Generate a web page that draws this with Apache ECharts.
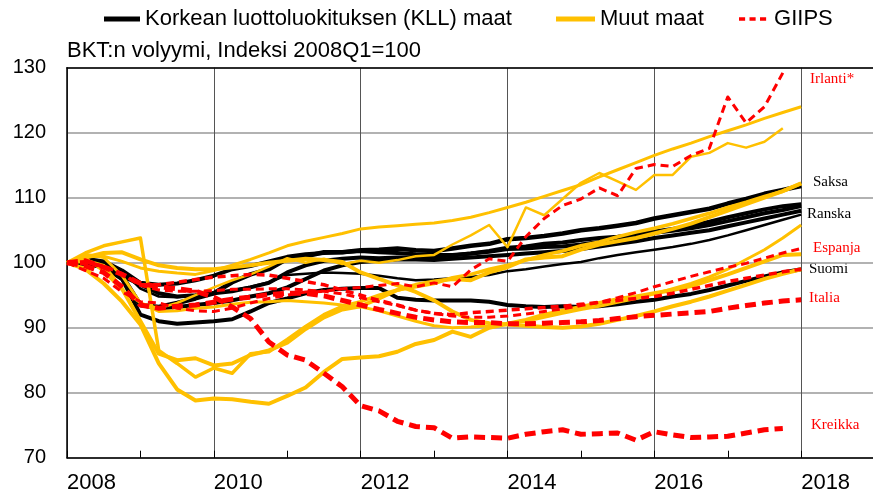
<!DOCTYPE html>
<html>
<head>
<meta charset="utf-8">
<script src="https://cdn.jsdelivr.net/npm/echarts@6/dist/echarts.min.js"></script>
<style>
  html, body { margin: 0; padding: 0; background: #fff; overflow: hidden; }
  /* piirtoalue jatkuu oikean reunan yli, jotta 2019 jää kuvan ulkopuolelle */
  #chart { width: 951px; height: 495px; }
</style>
</head>
<body>
<div id="chart"></div>
<script>
// vuosineljännekset 2008Q1 ... 2018Q1 desimaalivuosina
const quarters = [];
for (let i = 0; i <= 40; i++) quarters.push(2008 + i / 4);

const yearLabels = [2008, 2010, 2012, 2014, 2016, 2018];

// Korkean luottoluokituksen maat
const saksa = [100, 100.3, 99.8, 98.0, 93.5, 93.2, 93.8, 94.5, 95.3, 97.0, 98.2, 99.0, 100.6, 101.0, 101.6, 101.6, 101.9, 102.0, 102.2, 101.9, 101.8, 102.2, 102.6, 102.9, 103.6, 103.8, 104.1, 104.5, 105.0, 105.3, 105.7, 106.1, 106.8, 107.3, 107.8, 108.3, 109.1, 109.8, 110.6, 111.2, 111.8];
const itavalta = [100, 100.6, 100.2, 98.8, 96.9, 96.6, 96.8, 97.3, 98.0, 99.0, 99.5, 100.2, 100.9, 101.3, 101.5, 101.6, 101.8, 101.6, 101.5, 101.3, 101.2, 101.2, 101.4, 101.7, 102.1, 102.2, 102.4, 102.5, 102.8, 103.2, 103.7, 104.3, 104.8, 105.2, 105.7, 106.3, 107.0, 107.6, 108.2, 108.7, 109.0];
const belgia = [100, 100.4, 99.8, 98.0, 96.6, 95.3, 94.8, 95.0, 95.3, 95.6, 96.2, 96.9, 98.5, 99.6, 100.3, 100.6, 100.8, 100.7, 100.8, 100.8, 100.9, 101.1, 101.4, 101.8, 102.3, 102.5, 102.9, 103.1, 103.5, 103.8, 104.0, 104.3, 104.6, 104.9, 105.3, 105.8, 106.4, 107.0, 107.6, 108.1, 108.7];
const ranska = [100, 99.8, 99.3, 97.5, 93.5, 93.0, 93.2, 93.5, 93.8, 94.2, 94.8, 95.3, 96.2, 97.5, 98.8, 99.6, 100.1, 100.3, 100.5, 100.5, 100.4, 100.6, 100.8, 101.0, 101.2, 101.4, 101.6, 101.8, 102.1, 102.5, 102.9, 103.3, 103.8, 104.2, 104.6, 105.0, 105.6, 106.2, 106.8, 107.4, 108.0];
const alankomaat = [100, 100.5, 100.0, 98.8, 96.0, 94.8, 94.7, 95.0, 95.4, 95.8, 96.3, 97.0, 98.1, 98.3, 98.5, 98.4, 98.3, 98.0, 97.6, 97.3, 97.4, 97.6, 97.8, 98.1, 98.7, 99.0, 99.4, 99.8, 100.1, 100.7, 101.2, 101.6, 102.0, 102.4, 102.9, 103.5, 104.2, 105.0, 105.8, 106.6, 107.4];
const suomi = [100, 100.2, 99.5, 97.5, 92.0, 91.0, 90.6, 90.8, 91.0, 91.3, 92.5, 93.8, 94.5, 95.3, 95.8, 96.0, 96.1, 96.1, 94.6, 94.3, 94.2, 94.2, 94.2, 94.0, 93.5, 93.3, 93.2, 93.3, 93.2, 93.3, 93.6, 94.0, 94.3, 94.8, 95.2, 95.8, 96.5, 97.2, 97.9, 98.5, 99.0];

// Muut maat
const muut1 = [100, 100.9, 101.0, 100.2, 99.2, 98.7, 98.4, 98.2, 98.8, 99.6, 100.5, 101.5, 102.6, 103.3, 103.9, 104.5, 105.2, 105.5, 105.7, 105.9, 106.1, 106.5, 107.0, 107.7, 108.5, 109.3, 110.2, 111.1, 112.0, 113.2, 114.3, 115.4, 116.5, 117.5, 118.4, 119.4, 120.3, 121.2, 122.2, 123.1, 124.0];
const muut2 = [100, 100.8, 98.6, 95.8, 93.8, 93.0, 93.8, 95.0, 96.2, 97.3, 98.2, 99.4, 100.7, 100.0, 100.6, 99.8, 100.3, 100.0, 100.4, 101.0, 101.2, 102.8, 104.2, 105.8, 102.4, 108.5, 107.3, 109.8, 112.3, 113.8, 112.5, 111.2, 113.5, 113.5, 116.3, 116.9, 118.4, 117.7, 118.6, 120.7];
const muut3 = [100, 100.3, 99.5, 96.0, 91.0, 86.0, 85.0, 85.3, 84.2, 84.5, 85.8, 86.5, 87.7, 89.8, 91.6, 92.8, 93.3, 94.5, 95.8, 96.6, 97.1, 97.5, 97.3, 98.5, 99.3, 100.5, 100.8, 101.0, 102.0, 102.8, 103.3, 103.8, 104.5, 105.2, 106.0, 107.0, 108.0, 109.0, 110.0, 111.0, 112.2];
const muut4 = [100, 101.5, 102.6, 103.2, 103.8, 86.5, 84.5, 82.4, 83.8, 83.0, 86.0, 86.3, 88.2, 90.2, 92.0, 93.3, 94.0, 95.0, 95.8, 96.3, 96.8, 97.7, 98.2, 99.0, 99.6, 100.4, 101.2, 101.8, 102.6, 103.2, 104.0, 104.7, 105.3, 106.0, 106.8, 107.6, 108.5, 109.3, 110.2, 111.0, 112.2];
const muut5 = [100, 99.0, 96.8, 94.0, 90.5, 84.5, 80.5, 78.8, 79.1, 79.0, 78.6, 78.3, 79.5, 80.8, 83.2, 85.2, 85.4, 85.6, 86.3, 87.5, 88.1, 89.4, 88.6, 90.0, 90.6, 91.2, 92.0, 92.6, 93.2, 93.8, 94.4, 94.8, 95.3, 95.8, 96.4, 97.3, 98.2, 99.2, 100.2, 101.2, 101.3];
const muut6 = [100, 101.3, 100.8, 98.0, 93.8, 92.5, 92.6, 93.0, 93.2, 93.6, 93.9, 94.0, 94.2, 94.0, 93.8, 93.5, 93.2, 92.6, 91.8, 91.0, 90.3, 90.0, 90.1, 90.3, 90.6, 91.0, 91.6, 92.2, 92.8, 93.3, 93.9, 94.5, 95.2, 96.0, 96.8, 97.8, 99.0, 100.5, 102.0, 103.8, 105.8];
const muut7 = [100, 100.8, 101.5, 101.6, 100.5, 99.6, 99.2, 99.0, 99.0, 99.3, 99.6, 100.0, 100.3, 100.6, 100.4, 100.1, 98.5, 97.5, 96.5, 95.5, 94.2, 92.5, 91.2, 90.7, 90.5, 90.3, 90.1, 90.0, 90.2, 90.6, 91.2, 91.8, 92.5, 93.3, 94.0, 94.8, 95.7, 96.6, 97.5, 98.3, 99.0];

// GIIPS
const irlanti = [100, 98.8, 97.6, 95.5, 94.0, 93.8, 93.0, 92.6, 92.5, 93.0, 93.8, 94.5, 95.0, 95.5, 95.6, 96.0, 96.2, 96.5, 96.8, 96.3, 96.9, 96.3, 98.9, 100.6, 100.2, 104.0, 106.8, 108.8, 109.8, 111.5, 110.3, 114.5, 115.1, 114.8, 116.5, 117.6, 125.5, 121.5, 124.0, 129.2];
const portugali = [100, 99.8, 99.5, 98.3, 96.6, 96.6, 97.0, 97.4, 97.8, 98.0, 98.2, 98.1, 97.6, 97.1, 96.6, 95.8, 95.0, 94.2, 93.5, 92.7, 92.2, 92.0, 92.3, 92.5, 92.7, 92.9, 93.1, 93.3, 93.6, 93.9, 94.2, 94.5, 94.8, 95.3, 95.9, 96.5, 97.1, 97.6, 98.1, 98.6, 99.0];
const espanja = [100, 100.2, 99.5, 98.2, 96.5, 95.8, 95.6, 95.6, 95.7, 95.9, 95.9, 96.0, 96.0, 95.8, 95.6, 95.2, 94.6, 94.0, 93.4, 92.7, 92.2, 91.8, 91.6, 91.6, 91.8, 92.1, 92.5, 92.9, 93.4, 93.9, 94.6, 95.4, 96.3, 97.1, 97.9, 98.6, 99.3, 99.9, 100.7, 101.5, 102.2];
const italia = [100, 99.5, 98.5, 96.3, 93.5, 93.0, 93.3, 93.5, 93.9, 94.4, 94.7, 95.1, 95.3, 95.3, 94.9, 94.2, 93.5, 92.8, 92.2, 91.6, 91.2, 90.9, 90.8, 90.8, 90.6, 90.6, 90.7, 90.8, 90.9, 91.1, 91.4, 91.7, 91.9, 92.1, 92.3, 92.5, 93.0, 93.4, 93.8, 94.1, 94.3];
const kreikka = [100, 100.3, 99.3, 98.2, 96.8, 96.3, 96.0, 95.6, 94.7, 93.2, 91.4, 87.8, 85.8, 85.0, 83.0, 80.9, 78.0, 77.2, 75.6, 74.8, 74.6, 73.0, 73.2, 73.1, 73.0, 73.6, 74.0, 74.3, 73.6, 73.7, 73.8, 72.7, 74.0, 73.5, 73.1, 73.2, 73.3, 73.8, 74.3, 74.5];

const KLL = 'Korkean luottoluokituksen (KLL) maat';
const MUUT = 'Muut maat';
const GIIPS = 'GIIPS';
const BLACK = '#000000';
const YELLOW = '#FFC000';
const RED = '#FF0000';
const FONT = 'Liberation Sans, Arial, sans-serif';

const chart = echarts.init(document.getElementById('chart'));

function line(name, values, color, width, dash) {
  return {
    name: name,
    type: 'line',
    data: values.map((v, i) => [quarters[i], v]),
    symbol: 'none',
    silent: true,
    itemStyle: { color: color },
    lineStyle: { color: color, width: width, type: dash || 'solid', join: 'round' },
  };
}

const series = [
  line(KLL, saksa, BLACK, 4.5),
  line(KLL, itavalta, BLACK, 4),
  line(KLL, belgia, BLACK, 4),
  line(KLL, ranska, BLACK, 4),
  line(KLL, alankomaat, BLACK, 2.5),
  line(KLL, suomi, BLACK, 4),
  line(MUUT, muut1, YELLOW, 3),
  line(MUUT, muut2, YELLOW, 2.5),
  line(MUUT, muut3, YELLOW, 4),
  line(MUUT, muut4, YELLOW, 3.5),
  line(MUUT, muut5, YELLOW, 4),
  line(MUUT, muut6, YELLOW, 3),
  line(MUUT, muut7, YELLOW, 4),
  line(GIIPS, irlanti, RED, 3, [8, 5]),
  line(GIIPS, portugali, RED, 3.5, [8, 5]),
  line(GIIPS, espanja, RED, 3, [8, 5]),
  line(GIIPS, italia, RED, 5, [11, 6]),
  line(GIIPS, kreikka, RED, 5, [11, 6]),
];

const legendText = { fontSize: 22, color: '#000', fontFamily: FONT };

const countryLabels = [
  { text: 'Irlanti*', color: RED, x: 810, y: 79 },
  { text: 'Saksa', color: BLACK, x: 813, y: 182 },
  { text: 'Ranska', color: BLACK, x: 807, y: 214 },
  { text: 'Espanja', color: RED, x: 813, y: 248 },
  { text: 'Suomi', color: BLACK, x: 809, y: 269 },
  { text: 'Italia', color: RED, x: 809, y: 298 },
  { text: 'Kreikka', color: RED, x: 811, y: 425 },
];

const option = {
  animation: false,
  backgroundColor: '#fff',
  title: {
    text: 'BKT:n volyymi, Indeksi 2008Q1=100',
    left: 67,
    top: 40,
    padding: 0,
    textStyle: { fontSize: 22, fontWeight: 'normal', color: '#000', fontFamily: FONT },
  },
  legend: [
    { data: [KLL], left: 104, top: 8, icon: 'rect', itemWidth: 36, itemHeight: 5, padding: 0,
      textStyle: legendText, itemStyle: { color: BLACK } },
    { data: [MUUT], left: 556, top: 8, icon: 'rect', itemWidth: 39, itemHeight: 5, padding: 0,
      textStyle: legendText, itemStyle: { color: YELLOW } },
    { data: [GIIPS], left: 739, top: 8, icon: 'path://M0,0h7v4h-7zM12,0h7v4h-7zM24,0h7v4h-7z',
      itemWidth: 33, itemHeight: 3.5, padding: 0, textStyle: legendText, itemStyle: { color: RED } },
  ],
  grid: { left: 67, top: 67.7, right: 0, bottom: 37.3, containLabel: false },
  xAxis: [
    {
      type: 'value',
      min: 2008,
      max: 2020,
      interval: 2,
      axisLine: { show: true, lineStyle: { color: '#000', width: 1.5 } },
      axisTick: { show: true, inside: true, length: 7, lineStyle: { color: '#000' } },
      minorTick: { show: true, splitNumber: 2, length: 7, lineStyle: { color: '#000', width: 1 } },
      axisLabel: {
        align: 'left',
        margin: 14,
        fontSize: 22,
        color: '#000',
        fontFamily: FONT,
        formatter: (v) => (yearLabels.indexOf(v) >= 0 ? String(v) : ''),
      },
      splitLine: { show: true, lineStyle: { color: '#555', width: 1 } },
    },
    {
      type: 'value',
      position: 'top',
      min: 2008,
      max: 2020,
      axisLine: { show: true, lineStyle: { color: '#000', width: 1.5 } },
      axisTick: { show: false },
      axisLabel: { show: false },
      splitLine: { show: false },
    },
  ],
  yAxis: {
    type: 'value',
    min: 70,
    max: 130,
    interval: 10,
    axisLine: { show: true, lineStyle: { color: '#000', width: 1.5 } },
    axisTick: { show: false },
    axisLabel: { margin: 21, fontSize: 20, color: '#000', fontFamily: FONT },
    splitLine: { show: true, lineStyle: { color: '#999', width: 1.5 } },
  },
  graphic: countryLabels.map((c) => ({
    type: 'text',
    x: c.x,
    y: c.y,
    silent: true,
    style: {
      text: c.text,
      fill: c.color,
      font: '15px "Liberation Serif", "Times New Roman", serif',
      verticalAlign: 'middle',
    },
  })),
  series: series,
};

chart.setOption(option);
</script>
</body>
</html>
